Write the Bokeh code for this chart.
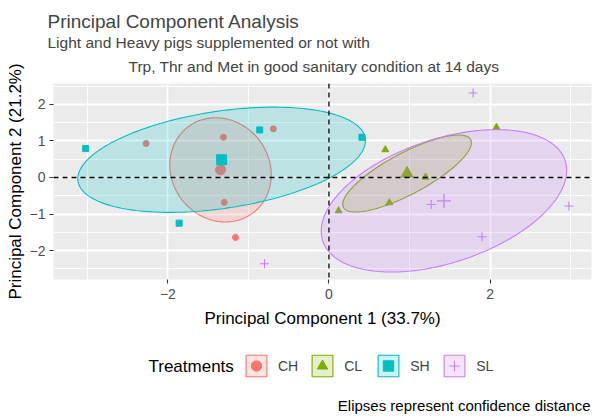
import numpy as np
from bokeh.plotting import figure
from bokeh.layouts import column
from bokeh.models import Range1d, FixedTicker, Span, Title, Legend, LegendItem, Label
from bokeh.embed import file_html
from bokeh.resources import INLINE

FONT = "Liberation Sans"

# PCA scores per treatment group (PC1, PC2)
groups = ["CH", "CL", "SH", "SL"]
colors = ["#F8766D", "#7CAE00", "#00BFC4", "#C77CFF"]
markers = ["circle", "triangle", "square", "cross"]

ch_pc1 = [-2.27, -1.31, -0.69, -1.30, -1.16]
ch_pc2 = [0.93, 1.10, 1.33, -0.68, -1.64]
cl_pc1 = [0.70, 0.12, 0.75, 1.20, 2.08]
cl_pc2 = [0.76, -0.91, -0.69, 0.01, 1.37]
sh_pc1 = [-3.02, -1.86, -0.86, 0.41]
sh_pc2 = [0.79, -1.25, 1.30, 1.10]
sl_pc1 = [1.79, 1.27, 1.90, 2.98, -0.80]
sl_pc2 = [2.31, -0.74, -1.62, -0.78, -2.36]

scores = {
    "CH": (ch_pc1, ch_pc2),
    "CL": (cl_pc1, cl_pc2),
    "SH": (sh_pc1, sh_pc2),
    "SL": (sl_pc1, sl_pc2),
}

x_ticks = [-2, 0, 2]
x_minor = [-3, -1, 1, 3]
y_ticks = [-2, -1, 0, 1, 2]
y_minor = [-2.5, -1.5, -0.5, 0.5, 1.5, 2.5]

SMALL = {"circle": 6, "triangle": 7, "square": 6, "cross": 9}
BIG = {"circle": 10, "triangle": 12, "square": 10, "cross": 14}


def confidence_ellipse(x, y, level=0.95, n_pts=240):
    """95% confidence ellipse of the group mean (covariance / n)."""
    x = np.asarray(x, dtype=float)
    y = np.asarray(y, dtype=float)
    cov = np.cov(x, y) / len(x)
    t = np.sqrt(-2.0 * np.log(1.0 - level))
    chol = np.linalg.cholesky(cov)
    th = np.linspace(0, 2 * np.pi, n_pts)
    ring = chol @ np.vstack([np.cos(th), np.sin(th)]) * t
    return x.mean() + ring[0], y.mean() + ring[1]


def draw_points(fig, xs, ys, mk, col, size, lw=1.1):
    if mk == "cross":
        return fig.scatter(xs, ys, marker=mk, size=size, line_color=col, line_width=lw)
    return fig.scatter(xs, ys, marker=mk, size=size, fill_color=col, line_color=col)


# ---- main scatter panel -------------------------------------------------
p = figure(
    width=593, height=330,
    output_backend="svg", toolbar_location=None,
    x_range=Range1d(-3.42, 3.26), y_range=Range1d(-2.79, 2.57),
    min_border_left=53, min_border_right=2, min_border_top=83, min_border_bottom=51,
)
p.title.visible = False
p.background_fill_color = "#EBEBEB"
p.border_fill_color = "white"
p.outline_line_color = None

for grid in (p.xgrid, p.ygrid):
    grid.grid_line_color = "white"
    grid.grid_line_width = 1.8
    grid.minor_grid_line_color = "white"
    grid.minor_grid_line_width = 0.9
p.xaxis.ticker = FixedTicker(ticks=x_ticks, minor_ticks=x_minor)
p.yaxis.ticker = FixedTicker(ticks=y_ticks, minor_ticks=y_minor)

for ax in (p.xaxis, p.yaxis):
    ax.axis_line_color = None
    ax.minor_tick_line_color = None
    ax.major_tick_line_color = "#333333"
    ax.major_tick_line_width = 1.1
    ax.major_tick_out = 4
    ax.major_tick_in = 0
    ax.major_label_text_color = "#4D4D4D"
    ax.major_label_text_font = FONT
    ax.major_label_text_font_size = "14px"
    ax.axis_label_text_font = FONT
    ax.axis_label_text_font_size = "17px"
    ax.axis_label_text_font_style = "normal"
    ax.axis_label_text_color = "black"

p.xaxis.axis_label = "Principal Component 1 (33.7%)"
p.xaxis.major_label_standoff = 5
p.xaxis.axis_label_standoff = 7
p.yaxis.axis_label = "Principal Component 2 (21.2%)"
p.yaxis.major_label_standoff = 4
p.yaxis.axis_label_standoff = 2

for g, col, mk in zip(groups, colors, markers):
    gx, gy = scores[g]
    ex, ey = confidence_ellipse(gx, gy)
    p.patch(ex, ey, fill_color=col, fill_alpha=0.2, line_color=col, line_width=1.1)
    draw_points(p, gx, gy, mk, col, SMALL[mk])
    draw_points(p, [np.mean(gx)], [np.mean(gy)], mk, col, BIG[mk], lw=1.3)

# reference lines through the origin
for dim in ("width", "height"):
    p.add_layout(Span(location=0, dimension=dim, line_color="black",
                      line_width=1.3, line_dash="5 4"))

# headings, added from the frame outward
p.add_layout(Title(text="Trp, Thr and Met in good sanitary condition at 14 days",
                   align="left", offset=75, text_font=FONT, text_font_size="15.5px",
                   text_font_style="normal", standoff=17), "above")
p.add_layout(Title(text="Light and Heavy pigs supplemented or not with",
                   align="left", offset=-6, text_font=FONT, text_font_size="15.5px",
                   text_font_style="normal", standoff=-7), "above")
p.add_layout(Title(text="Principal Component Analysis",
                   align="left", offset=-6, text_font=FONT, text_font_size="19px",
                   text_font_style="normal", standoff=7), "above")

# ---- legend strip and caption ------------------------------------------
# the strip's frame lines up with the panel above, so x is in page pixels
leg = figure(
    width=593, height=89, output_backend="svg", toolbar_location=None,
    x_range=Range1d(53, 591), y_range=Range1d(0, 89),
    x_axis_type=None, y_axis_type=None, min_border=0,
)
leg.title.visible = False
leg.grid.visible = False
leg.outline_line_color = None
leg.background_fill_color = "white"

# key renderers: one undrawn (NaN) row each so the legend can paint its swatches
items = []
for g, col, mk in zip(groups, colors, markers):
    key_patch = leg.patch([np.nan], [np.nan], fill_color=col, fill_alpha=0.2,
                          line_color=col, line_width=1.1)
    key_pts = draw_points(leg, [np.nan], [np.nan], mk, col, SMALL[mk])
    items.append(LegendItem(label=g, renderers=[key_patch, key_pts]))

leg.add_layout(Legend(
    items=items, orientation="horizontal", location=(190, 40),
    label_text_font=FONT, label_text_font_size="14px",
    glyph_width=26, glyph_height=27, label_standoff=9, spacing=11,
    padding=4, margin=0, border_line_color=None, background_fill_alpha=0,
))
leg.add_layout(Label(x=148, y=53, text="Treatments", text_font=FONT,
                     text_font_size="17px", text_baseline="middle",
                     text_align="left", text_color="black"))
leg.add_layout(Label(x=590, y=14, text="Elipses represent confidence distance",
                     text_font=FONT, text_font_size="15px", text_baseline="middle",
                     text_align="right", text_color="black"))

open("out.html", "w").write(file_html(column(p, leg), INLINE))
